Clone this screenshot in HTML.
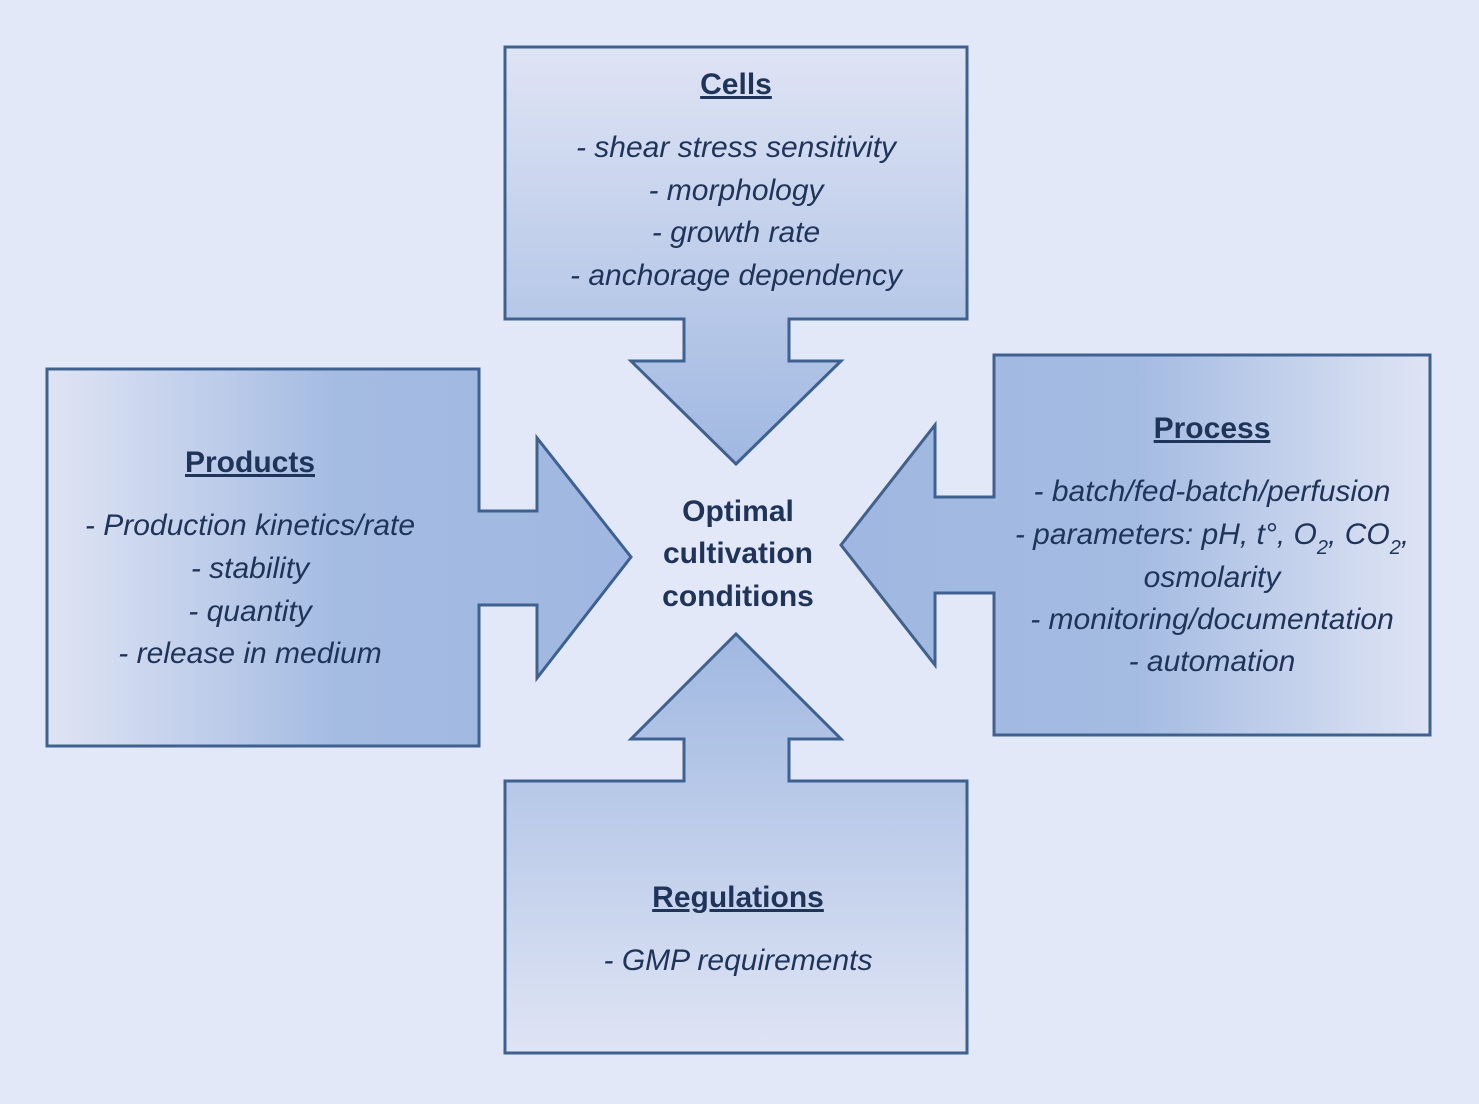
<!DOCTYPE html>
<html><head><meta charset="utf-8"><style>
html,body{margin:0;padding:0;background:#e3e8f8;}
svg{display:block}
text{font-family:"Liberation Sans",sans-serif;fill:#1f3459;}
.h{font-weight:bold;font-size:30px;text-decoration:underline;}
.i{font-style:italic;font-size:30px;}
.c{font-weight:bold;font-size:30px;}
</style></head><body>
<svg width="1479" height="1104" viewBox="0 0 1479 1104">
<defs>
<linearGradient id="gd" x1="0" y1="47" x2="0" y2="464" gradientUnits="userSpaceOnUse"><stop offset="0" stop-color="#dfe4f4"/><stop offset="1" stop-color="#a0b8e1"/></linearGradient>
<linearGradient id="gu" x1="0" y1="1053" x2="0" y2="634" gradientUnits="userSpaceOnUse"><stop offset="0" stop-color="#dfe4f4"/><stop offset="1" stop-color="#a0b8e1"/></linearGradient>
<linearGradient id="gr" x1="47" y1="0" x2="631" y2="0" gradientUnits="userSpaceOnUse"><stop offset="0" stop-color="#dfe4f4"/><stop offset="0.5" stop-color="#a4bbe2"/><stop offset="1" stop-color="#a0b8e1"/></linearGradient>
<linearGradient id="gl" x1="1430" y1="0" x2="841" y2="0" gradientUnits="userSpaceOnUse"><stop offset="0" stop-color="#dfe4f4"/><stop offset="0.5" stop-color="#a4bbe2"/><stop offset="1" stop-color="#a0b8e1"/></linearGradient>
</defs>
<g stroke="#3e6190" stroke-width="3" stroke-linejoin="miter">
<path fill="url(#gd)" d="M505,47 H967 V319 H789 V361 H841 L736,464 L631,361 H684 V319 H505 Z"/>
<path fill="url(#gu)" d="M505,1053 H967 V781 H789 V739 H841 L736,634 L631,739 H684 V781 H505 Z"/>
<path fill="url(#gr)" d="M47,369 V746 H479 V605 H537 V678 L631,557 L537,438 V511 H479 V369 Z"/>
<path fill="url(#gl)" d="M1430,355 V735 H994 V593 H935 V665 L841,545 L935,425 V497 H994 V355 Z"/>
</g>
<g text-anchor="middle">
<text class="h" x="736" y="94">Cells</text>
<text class="i" x="736" y="157">- shear stress sensitivity</text>
<text class="i" x="736" y="200">- morphology</text>
<text class="i" x="736" y="242">- growth rate</text>
<text class="i" x="736" y="285">- anchorage dependency</text>
<text class="h" x="250" y="472">Products</text>
<text class="i" x="250" y="535">- Production kinetics/rate</text>
<text class="i" x="250" y="578">- stability</text>
<text class="i" x="250" y="621">- quantity</text>
<text class="i" x="250" y="663">- release in medium</text>
<text class="h" x="1212" y="438">Process</text>
<text class="i" x="1212" y="501">- batch/fed-batch/perfusion</text>
<text class="i" x="1212" y="544">- parameters: pH, t°, O<tspan font-size="20" dy="10">2</tspan><tspan dy="-10">, CO</tspan><tspan font-size="20" dy="10">2</tspan><tspan dy="-10">,</tspan></text>
<text class="i" x="1212" y="587">osmolarity</text>
<text class="i" x="1212" y="629">- monitoring/documentation</text>
<text class="i" x="1212" y="671">- automation</text>
<text class="h" x="738" y="907">Regulations</text>
<text class="i" x="738" y="970">- GMP requirements</text>
<text class="c" x="738" y="521">Optimal</text>
<text class="c" x="738" y="563">cultivation</text>
<text class="c" x="738" y="606">conditions</text>
</g>
</svg>
</body></html>
